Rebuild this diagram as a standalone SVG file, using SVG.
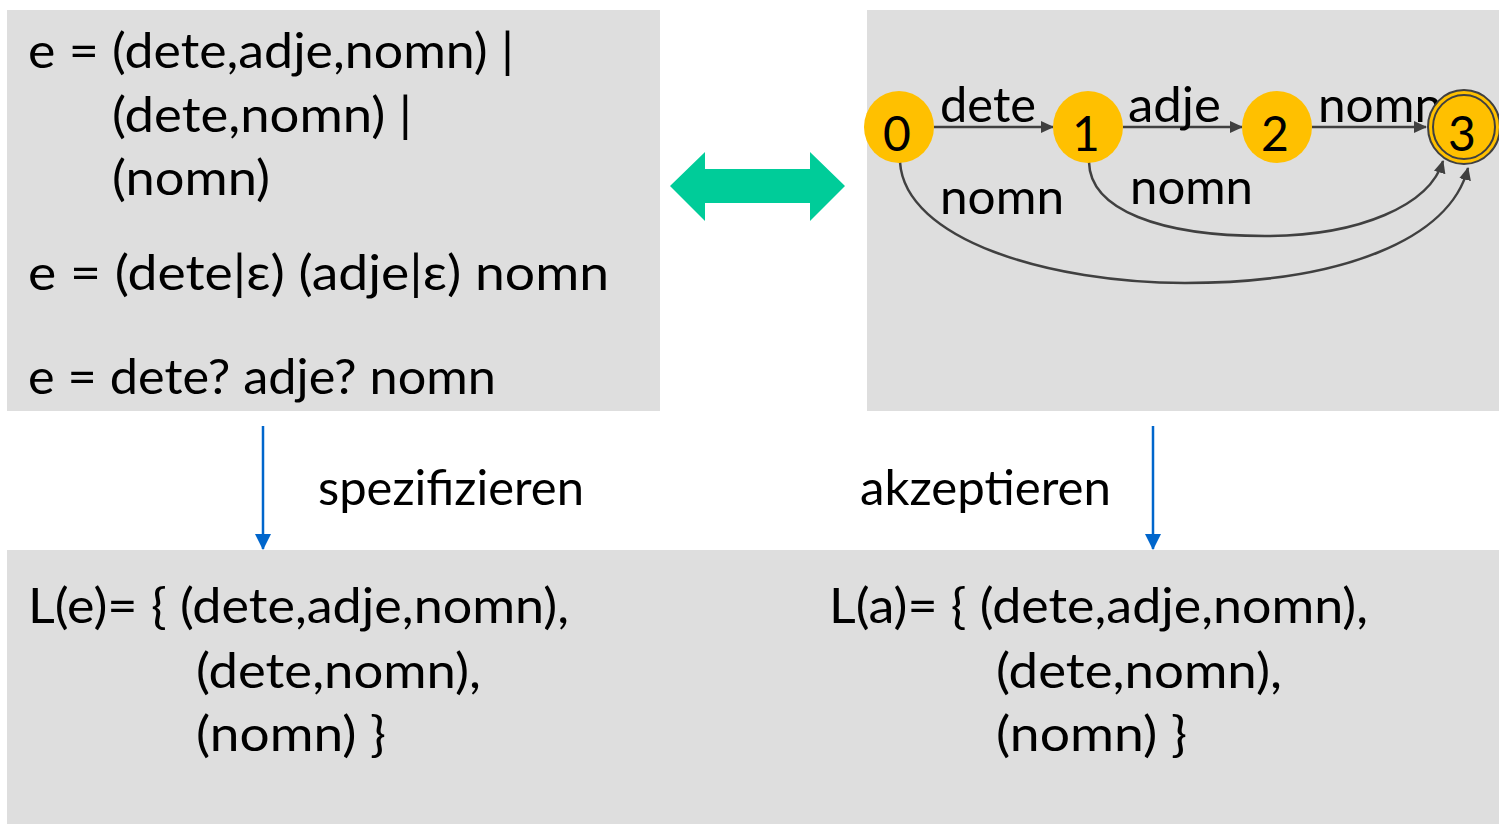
<svg xmlns="http://www.w3.org/2000/svg" width="1499" height="824" viewBox="0 0 1499 824">
  <defs>
    <style>
      .panel { fill: #dedede; }
      .t { font-family: Lato, "Open Sans", sans-serif; font-size: 49px; fill: #000; }
      .lbl { font-family: Lato, "Open Sans", sans-serif; font-size: 48px; fill: #000; }
      .state { fill: #ffc000; }
      .edge { fill: none; stroke: #404040; stroke-width: 2.5; }
      .flow { stroke: #0066cc; stroke-width: 2.5; fill: none; }
    </style>
    <marker id="ah" markerWidth="13" markerHeight="12" refX="12" refY="6" orient="auto" markerUnits="userSpaceOnUse" viewBox="0 0 13 12">
      <path d="M0,0 L13,6 L0,12 z" fill="#404040"/>
    </marker>
    <marker id="bh" markerWidth="16" markerHeight="16" refX="15" refY="8" orient="auto" markerUnits="userSpaceOnUse" viewBox="0 0 16 16">
      <path d="M0,0 L16,8 L0,16 z" fill="#0066cc"/>
    </marker>
  </defs>

  <!-- panels -->
  <rect class="panel" x="7" y="10" width="653" height="401"/>
  <rect class="panel" x="867" y="10" width="632" height="401"/>
  <rect class="panel" x="7" y="550" width="1492" height="274"/>

  <!-- regular expressions -->
  <g id="regex">
    <text class="t" x="28" y="68" textLength="486" lengthAdjust="spacingAndGlyphs">e = (dete,adje,nomn) |</text>
    <text class="t" x="112" y="132" textLength="300" lengthAdjust="spacingAndGlyphs">(dete,nomn) |</text>
    <text class="t" x="112" y="195" textLength="158" lengthAdjust="spacingAndGlyphs">(nomn)</text>
    <text class="t" x="28" y="290" textLength="581" lengthAdjust="spacingAndGlyphs">e = (dete|ε) (adje|ε) nomn</text>
    <text class="t" x="28" y="394" textLength="468" lengthAdjust="spacingAndGlyphs">e = dete? adje? nomn</text>
  </g>

  <!-- equivalence arrow -->
  <g id="equiv">
    <polygon points="670,186 705,152 705,169 810,169 810,152 845,186 810,221 810,203 705,203 705,221" fill="#00cc99"/>
  </g>

  <!-- connectors -->
  <g id="connectors">
    <line class="edge" x1="934" y1="127" x2="1053" y2="127" marker-end="url(#ah)"/>
    <line class="edge" x1="1123" y1="127" x2="1242" y2="127" marker-end="url(#ah)"/>
    <line class="edge" x1="1312" y1="127" x2="1426" y2="127" marker-end="url(#ah)"/>
    <path class="edge" d="M1089,162 C1090,210 1160,236 1265,236 C1360,236 1430,205 1443,161" marker-end="url(#ah)"/>
    <path class="edge" d="M900,162 C905,240 1050,283 1185,283 C1340,283 1450,240 1468,168" marker-end="url(#ah)"/>
    <line class="flow" x1="263" y1="426" x2="263" y2="549" marker-end="url(#bh)"/>
    <line class="flow" x1="1153" y1="426" x2="1153" y2="549" marker-end="url(#bh)"/>
  </g>

  <!-- edge labels -->
  <g id="edge-labels">
    <text class="lbl" x="940" y="122" textLength="96" lengthAdjust="spacingAndGlyphs">dete</text>
    <text class="lbl" x="1128" y="122" textLength="93" lengthAdjust="spacingAndGlyphs">adje</text>
    <text class="lbl" x="1318" y="122" textLength="124" lengthAdjust="spacingAndGlyphs">nomn</text>
    <text class="lbl" x="940" y="214" textLength="124" lengthAdjust="spacingAndGlyphs">nomn</text>
    <text class="lbl" x="1130" y="204" textLength="123" lengthAdjust="spacingAndGlyphs">nomn</text>
  </g>

  <!-- states -->
  <g id="state-0">
    <ellipse class="state" cx="899" cy="127" rx="35" ry="36"/>
    <text class="lbl" x="897" y="151" text-anchor="middle">0</text>
  </g>
  <g id="state-1">
    <ellipse class="state" cx="1088" cy="127" rx="35" ry="36"/>
    <text class="lbl" x="1086" y="151" text-anchor="middle">1</text>
  </g>
  <g id="state-2">
    <ellipse class="state" cx="1277" cy="127" rx="35" ry="36"/>
    <text class="lbl" x="1275" y="151" text-anchor="middle">2</text>
  </g>
  <g id="state-3">
    <ellipse class="state" cx="1464" cy="127" rx="36" ry="37" stroke="#404040" stroke-width="2"/>
    <ellipse cx="1464" cy="127" rx="31" ry="32" fill="none" stroke="#404040" stroke-width="2"/>
    <text class="lbl" x="1462" y="151" text-anchor="middle">3</text>
  </g>

  <!-- flow labels -->
  <g id="flow-labels">
    <text class="t" x="318" y="505" textLength="266" lengthAdjust="spacingAndGlyphs">spezifizieren</text>
    <text class="t" x="860" y="505" textLength="251" lengthAdjust="spacingAndGlyphs">akzeptieren</text>
  </g>

  <!-- languages -->
  <g id="lang-e">
    <text class="t" x="28" y="623" textLength="541" lengthAdjust="spacingAndGlyphs">L(e)= { (dete,adje,nomn),</text>
    <text class="t" x="196" y="688" textLength="285" lengthAdjust="spacingAndGlyphs">(dete,nomn),</text>
    <text class="t" x="196" y="751" textLength="190" lengthAdjust="spacingAndGlyphs">(nomn) }</text>
  </g>
  <g id="lang-a">
    <text class="t" x="829" y="623" textLength="539" lengthAdjust="spacingAndGlyphs">L(a)= { (dete,adje,nomn),</text>
    <text class="t" x="996" y="688" textLength="286" lengthAdjust="spacingAndGlyphs">(dete,nomn),</text>
    <text class="t" x="996" y="751" textLength="191" lengthAdjust="spacingAndGlyphs">(nomn) }</text>
  </g>
</svg>
